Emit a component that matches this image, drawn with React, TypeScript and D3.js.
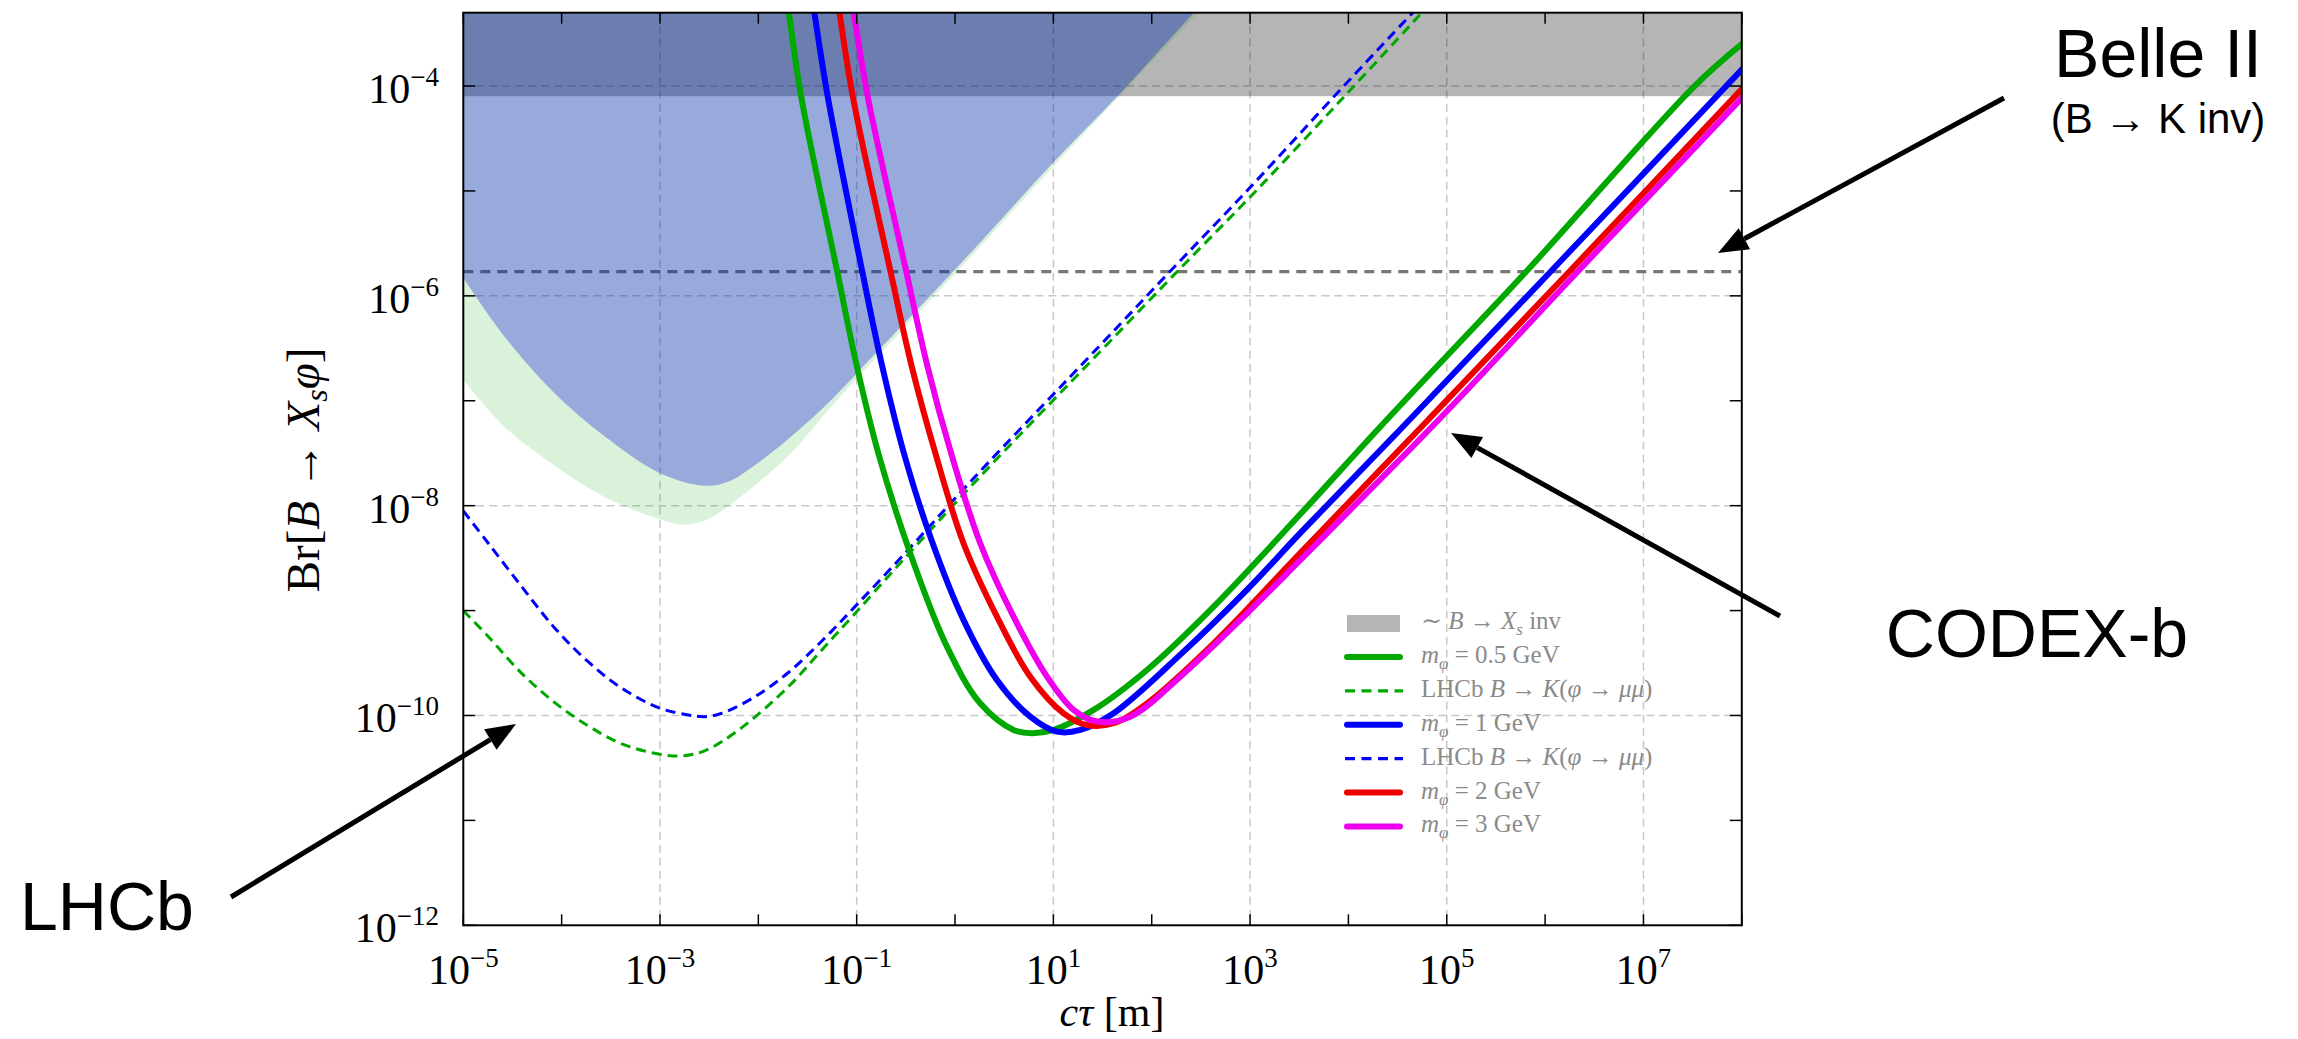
import React from "react";
import * as d3 from "d3";

// every point is [log10(cτ / m), log10(Br)]
const decadesX = d3.range(-5, 9);
const labelsX = [-5, -3, -1, 1, 3, 5, 7];
const decadesY = d3.range(-12, -3);
const labelsY = [-12, -10, -8, -6, -4];
const gridX = [-3, -1, 1, 3, 5, 7];
const gridY = [-10, -8, -6, -4];

const belleLimit = 1.7e-6;
const invBand = [8e-5, 5e-4];

const blueEdge = [
  [-5.0, -5.83], [-4.58, -6.39], [-4.07, -6.93], [-3.56, -7.34], [-3.0, -7.69],
  [-2.54, -7.81], [-2.3, -7.77], [-2.03, -7.61], [-1.69, -7.36], [-1.3, -7.03],
  [-1.0, -6.74], [0.0, -5.75], [1.0, -4.73], [1.68, -4.07], [2.43, -3.3], [2.73, -3.0],
];
const greenEdge = [
  [-5.0, -6.8], [-4.58, -7.25], [-4.07, -7.62], [-3.56, -7.92], [-3.0, -8.13],
  [-2.78, -8.18], [-2.54, -8.14], [-2.2, -7.93], [-1.69, -7.52], [-1.3, -7.1],
  [-1.0, -6.79], [0.0, -5.79], [1.0, -4.77], [2.47, -3.3], [2.77, -3.0],
];

const solid05 = [
  [-1.706, -3.2], [-1.69, -3.3], [-1.565, -4.098], [-1.202, -5.751],
  [-0.998, -6.673], [-0.78, -7.5], [-0.456, -8.453], [-0.082, -9.344], [0.256, -9.884],
  [0.595, -10.138], [0.782, -10.17], [1.002, -10.138], [1.409, -9.947], [1.952, -9.566],
  [2.63, -8.962], [3.512, -8.08], [4.39, -7.181], [5.825, -5.751], [7.52, -4.0], [8.0, -3.6],
];
const solid1 = [
  [-1.446, -3.2], [-1.43, -3.3], [-1.295, -4.098], [-0.947, -5.751],
  [-0.74, -6.673], [-0.52, -7.5], [-0.252, -8.295], [0.086, -9.089], [0.426, -9.662],
  [0.765, -10.011], [1.037, -10.154], [1.274, -10.138], [1.612, -9.979], [2.291, -9.42],
  [2.97, -8.8], [3.512, -8.26], [4.622, -7.181], [6.055, -5.77], [8.0, -3.844],
];
const solid2 = [
  [-1.191, -3.2], [-1.175, -3.3], [-1.04, -4.098], [-0.66, -5.751],
  [-0.44, -6.673], [-0.2, -7.5], [0.086, -8.358], [0.426, -9.058], [0.765, -9.63],
  [1.104, -9.979], [1.342, -10.091], [1.612, -10.074], [1.952, -9.884], [2.63, -9.312],
  [3.512, -8.45], [4.812, -7.181], [6.245, -5.77], [8.0, -4.028],
];
const solid3 = [
  [-1.046, -3.2], [-1.03, -3.3], [-0.888, -4.098], [-0.5, -5.751],
  [-0.28, -6.673], [-0.04, -7.5], [0.256, -8.358], [0.595, -9.058], [0.935, -9.63],
  [1.206, -9.947], [1.444, -10.058], [1.782, -10.011], [2.291, -9.63], [2.97, -9.026],
  [3.512, -8.517], [4.918, -7.181], [6.33, -5.77], [8.0, -4.114],
];
const lhcb05 = [
  [-5.0, -9.0], [-4.746, -9.248], [-4.406, -9.598], [-4.067, -9.88], [-3.728, -10.1],
  [-3.389, -10.27], [-3.002, -10.37], [-2.778, -10.385], [-2.541, -10.335], [-2.203, -10.14],
  [-1.694, -9.725], [-1.354, -9.375], [-1.015, -9.026], [-0.54, -8.53], [0.223, -7.754],
  [1.477, -6.53], [2.216, -5.81], [3.08, -4.98], [3.967, -4.09], [4.727, -3.32], [4.82, -3.22],
];
const lhcb1 = [
  [-5.0, -8.05], [-4.746, -8.358], [-4.406, -8.772], [-4.067, -9.17], [-3.728, -9.49],
  [-3.389, -9.74], [-3.002, -9.93], [-2.711, -9.995], [-2.541, -10.011], [-2.371, -9.979],
  [-2.033, -9.82], [-1.694, -9.59], [-1.354, -9.29], [-1.015, -8.96], [-0.54, -8.485],
  [0.188, -7.74], [1.477, -6.47], [2.153, -5.8], [2.997, -4.97], [3.904, -4.05],
  [4.706, -3.25], [4.76, -3.2],
];

const masses = ["0.5", "1", "2", "3"];

const serif = "'Liberation Serif', 'DejaVu Serif', serif";
const sans = "'Liberation Sans', Arial, Helvetica, sans-serif";

function Arrow({ from, to }) {
  const [x1, y1] = from;
  const [x2, y2] = to;
  const len = Math.hypot(x2 - x1, y2 - y1);
  const ux = (x2 - x1) / len;
  const uy = (y2 - y1) / len;
  const L = 30;
  const W = 12;
  const bx = x2 - ux * L;
  const by = y2 - uy * L;
  return (
    <g>
      <line x1={x1} y1={y1} x2={bx} y2={by} stroke="black" strokeWidth={5} />
      <polygon
        points={`${x2},${y2} ${bx - uy * W},${by + ux * W} ${bx + uy * W},${by - ux * W}`}
        fill="black"
      />
    </g>
  );
}

export default function App() {
  const width = 2298;
  const height = 1039;
  const left = 463.3;
  const right = 1741.8;
  const top = 12.7;
  const bottom = 925.3;

  const x = d3.scaleLog().domain([1e-5, 1e8]).range([left, right]);
  const y = d3.scaleLog().domain([1e-12, 5e-4]).range([bottom, top]);

  const smooth = d3.curveCatmullRom.alpha(0.5);
  const line = d3
    .line()
    .x((d) => x(10 ** d[0]))
    .y((d) => y(10 ** d[1]))
    .curve(smooth);
  const area = d3
    .area()
    .x((d) => x(10 ** d[0]))
    .y0(-40)
    .y1((d) => y(10 ** d[1]))
    .curve(smooth);

  const solids = [
    { pts: solid05, color: "#00a800" },
    { pts: solid1, color: "#0000ff" },
    { pts: solid2, color: "#ee0000" },
    { pts: solid3, color: "#ee00ee" },
  ];
  const dashed = [
    { pts: lhcb05, color: "#00a800" },
    { pts: lhcb1, color: "#0000ff" },
  ];

  const pow10 = (e) => (
    <>
      10<tspan dy={-17} fontSize={27}>{(e < 0 ? "\u2212" : "") + Math.abs(e)}</tspan>
    </>
  );

  const legendGray = "#8a8a8a";
  const lx0 = 1344;
  const lx1 = 1403;
  const tx = 1421;
  const rowY = (i) => 623 + i * 33.9;

  const massLabel = (m) => (
    <>
      <tspan fontStyle="italic">m</tspan>
      <tspan fontStyle="italic" fontSize={17} dy={6}>φ</tspan>
      <tspan dy={-6}>{" = " + m + " GeV"}</tspan>
    </>
  );
  const lhcbLabel = (
    <>
      {"LHCb "}
      <tspan fontStyle="italic">B</tspan>
      {" → "}
      <tspan fontStyle="italic">K</tspan>
      {"("}
      <tspan fontStyle="italic">φ</tspan>
      {" → "}
      <tspan fontStyle="italic">μμ</tspan>
      {")"}
    </>
  );

  const legendRows = [
    { kind: "patch", label: (
      <>
        {"∼ "}
        <tspan fontStyle="italic">B</tspan>
        {" → "}
        <tspan fontStyle="italic">X</tspan>
        <tspan fontStyle="italic" fontSize={17} dy={6}>s</tspan>
        <tspan dy={-6}>{" inv"}</tspan>
      </>
    ) },
    { kind: "solid", color: solids[0].color, label: massLabel(masses[0]) },
    { kind: "dash", color: dashed[0].color, label: lhcbLabel },
    { kind: "solid", color: solids[1].color, label: massLabel(masses[1]) },
    { kind: "dash", color: dashed[1].color, label: lhcbLabel },
    { kind: "solid", color: solids[2].color, label: massLabel(masses[2]) },
    { kind: "solid", color: solids[3].color, label: massLabel(masses[3]) },
  ];

  return (
    <div style={{ position: "absolute", left: 0, top: 0 }}>
      <svg width={width} height={height} style={{ display: "block", background: "white" }}>
        <defs>
          <clipPath id="plot">
            <rect x={left} y={top} width={right - left} height={bottom - top} />
          </clipPath>
        </defs>

        <g clipPath="url(#plot)">
          {gridX.map((e) => (
            <line key={"gx" + e} x1={x(10 ** e)} x2={x(10 ** e)} y1={top} y2={bottom}
              stroke="#c8c8c8" strokeWidth={1.5} strokeDasharray="8 5" />
          ))}
          {gridY.map((e) => (
            <line key={"gy" + e} x1={left} x2={right} y1={y(10 ** e)} y2={y(10 ** e)}
              stroke="#c8c8c8" strokeWidth={1.5} strokeDasharray="8 5" />
          ))}
          <line x1={left} x2={right} y1={y(belleLimit)} y2={y(belleLimit)}
            stroke="#777" strokeWidth={3.2} strokeDasharray="10 7" />
          <rect x={left} width={right - left} y={y(invBand[1])} height={y(invBand[0]) - y(invBand[1])}
            fill="black" fillOpacity={0.29} />
          <path d={area(greenEdge) + area(blueEdge)} fill="rgb(0,170,0)" fillOpacity={0.15} fillRule="evenodd" />
          <path d={area(blueEdge)} fill="rgb(0,43,169)" fillOpacity={0.405} />
          {dashed.map((s, i) => (
            <path key={"d" + i} d={line(s.pts)} fill="none" stroke={s.color} strokeWidth={3}
              strokeDasharray="10 6" />
          ))}
          {solids.map((s, i) => (
            <path key={"s" + i} d={line(s.pts)} fill="none" stroke={s.color} strokeWidth={6}
              strokeLinecap="round" />
          ))}
        </g>

        {/* frame and ticks */}
        <rect x={left} y={top} width={right - left} height={bottom - top} fill="none" stroke="black" strokeWidth={2} />
        {decadesX.map((e) => (
          <g key={"tx" + e}>
            <line x1={x(10 ** e)} x2={x(10 ** e)} y1={bottom} y2={bottom - 11} stroke="black" strokeWidth={1.5} />
            <line x1={x(10 ** e)} x2={x(10 ** e)} y1={top} y2={top + 11} stroke="black" strokeWidth={1.5} />
          </g>
        ))}
        {decadesY.map((e) => (
          <g key={"ty" + e}>
            <line x1={left} x2={left + 12} y1={y(10 ** e)} y2={y(10 ** e)} stroke="black" strokeWidth={1.5} />
            <line x1={right} x2={right - 12} y1={y(10 ** e)} y2={y(10 ** e)} stroke="black" strokeWidth={1.5} />
          </g>
        ))}
        <g fontFamily={serif} fontSize={42} fill="black">
          {labelsX.map((e) => (
            <text key={"lx" + e} x={x(10 ** e)} y={984} textAnchor="middle">{pow10(e)}</text>
          ))}
          {labelsY.map((e) => (
            <text key={"ly" + e} x={439} y={y(10 ** e) + 17} textAnchor="end">{pow10(e)}</text>
          ))}
          <text x={1112} y={1026} textAnchor="middle">
            <tspan fontStyle="italic">cτ</tspan>
            {" [m]"}
          </text>
          <text transform="translate(319,470) rotate(-90)" textAnchor="middle" fontSize={47}>
            {"Br["}
            <tspan fontStyle="italic">B</tspan>
            {" → "}
            <tspan fontStyle="italic">X</tspan>
            <tspan fontStyle="italic" fontSize={32} dy={8}>s</tspan>
            <tspan fontStyle="italic" dy={-8}>φ</tspan>
            {"]"}
          </text>
        </g>

        {/* legend */}
        <g fontFamily={serif} fontSize={25} fill={legendGray}>
          {legendRows.map((r, i) => (
            <g key={"lg" + i}>
              {r.kind === "patch" && (
                <rect x={lx0 + 3} y={rowY(i) - 8} width={lx1 - lx0 - 6} height={17} fill="#b5b5b5" />
              )}
              {r.kind === "solid" && (
                <line x1={lx0 + 3} x2={lx1 - 3} y1={rowY(i)} y2={rowY(i)} stroke={r.color}
                  strokeWidth={6} strokeLinecap="round" />
              )}
              {r.kind === "dash" && (
                <line x1={lx0 + 1} x2={lx1} y1={rowY(i)} y2={rowY(i)} stroke={r.color}
                  strokeWidth={3.2} strokeDasharray="10 6.5" />
              )}
              <text x={tx} y={rowY(i) + 6}>{r.label}</text>
            </g>
          ))}
        </g>

        {/* annotations */}
        <g fontFamily={sans} fill="black">
          <text x={2158} y={77} textAnchor="middle" fontSize={68}>Belle II</text>
          <text x={2158} y={133} textAnchor="middle" fontSize={42}>(B → K inv)</text>
          <text x={2037} y={657} textAnchor="middle" fontSize={68}>CODEX-b</text>
          <text x={20} y={930} fontSize={68}>LHCb</text>
        </g>
        <Arrow from={[2004, 98]} to={[1718, 253]} />
        <Arrow from={[1780, 616]} to={[1451, 433]} />
        <Arrow from={[231, 897]} to={[516, 724]} />
      </svg>
    </div>
  );
}
